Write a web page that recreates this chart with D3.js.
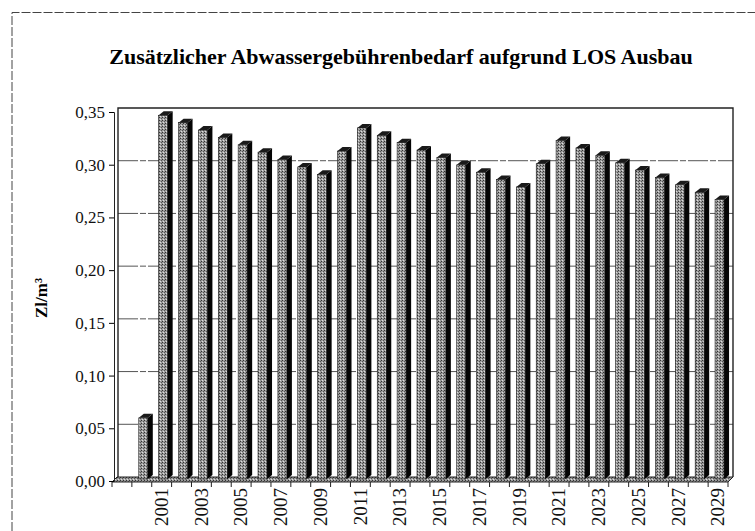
<!DOCTYPE html>
<html>
<head>
<meta charset="utf-8">
<script src="https://cdn.jsdelivr.net/npm/d3@7"></script>
<style>
  body { margin: 0; background: #fff; }
  text { font-family: "Liberation Serif", "DejaVu Serif", serif; }
</style>
</head>
<body>
<svg width="755" height="531"></svg>
<script>
var years = [1999, 2000, 2001, 2002, 2003, 2004, 2005, 2006, 2007, 2008, 2009,
             2010, 2011, 2012, 2013, 2014, 2015, 2016, 2017, 2018, 2019,
             2020, 2021, 2022, 2023, 2024, 2025, 2026, 2027, 2028, 2029];
var values = [0, 0.058, 0.345, 0.338, 0.331, 0.324, 0.317, 0.310, 0.303, 0.296, 0.289,
              0.311, 0.333, 0.326, 0.319, 0.312, 0.305, 0.298, 0.291, 0.284, 0.277,
              0.299, 0.321, 0.314, 0.307, 0.300, 0.293, 0.286, 0.279, 0.272, 0.265];
var yTicks = [0, 0.05, 0.10, 0.15, 0.20, 0.25, 0.30, 0.35];
var title = "Zusätzlicher Abwassergebührenbedarf aufgrund LOS Ausbau";
var yTitle = "Zl/m³";

var svg = d3.select("svg");
var dx = 5, dy = 4; // 3d depth offset

var x = d3.scaleBand().domain(years).range([112, 728]).padding(0);
var yBack = d3.scaleLinear().domain([0, 0.35]).range([477, 108]);
var yBar = d3.scaleLinear().domain([0, 0.35]).range([479, 110]);
var fmt = function(v){ return d3.format(".2f")(v).replace(".", ","); };

// stipple pattern for the bar faces
var defs = svg.append("defs");
var pat = defs.append("pattern").attr("id", "stip").attr("width", 3).attr("height", 3)
    .attr("patternUnits", "userSpaceOnUse");
pat.append("rect").attr("width", 3).attr("height", 3).attr("fill", "#9c9c9c");
pat.append("rect").attr("x", 0).attr("y", 0).attr("width", 1).attr("height", 1).attr("fill", "#333");
pat.append("rect").attr("x", 2).attr("y", 1).attr("width", 1).attr("height", 1).attr("fill", "#555");
pat.append("rect").attr("x", 1).attr("y", 2).attr("width", 1).attr("height", 1).attr("fill", "#ddd");

// outer frame
svg.append("path").attr("d", "M12,531 L12,12.5 L755,12.5")
    .attr("fill", "none").attr("stroke", "#444").attr("stroke-width", 1)
    .attr("stroke-dasharray", "9,2");

// title
svg.append("text").attr("x", 401).attr("y", 64).attr("text-anchor", "middle")
    .attr("font-size", 22).attr("font-weight", "bold").text(title);

// back wall gridlines
svg.selectAll("line.grid").data(yTicks.slice(1, -1)).enter().append("line")
    .attr("x1", 118).attr("x2", 733)
    .attr("y1", function(d){ return yBack(d); }).attr("y2", function(d){ return yBack(d); })
    .attr("stroke", "#555").attr("stroke-width", 1).attr("stroke-dasharray", "20,2,6,2");

// plot walls
svg.append("path").attr("d", "M118,477 L118,108 L733,108 L733,477")
    .attr("fill", "none").attr("stroke", "#222").attr("stroke-width", 1.4);

// floor
svg.append("path").attr("d", "M112,482 L117,477 L733,477 L728,482 Z")
    .attr("fill", "url(#stip)").attr("stroke", "#222").attr("stroke-width", 1);

// bars
var bar = svg.selectAll("g.bar").data(years).enter().append("g").attr("class", "bar");
bar.each(function(d, i){
    var g = d3.select(this);
    var cx = x(d) + x.bandwidth() / 2;
    var v = values[i];
    var x0 = cx - 3, x1 = cx + 6, yt = yBar(v), yb = yBar(0);
    if (v <= 0) return;
    g.append("rect").attr("x", x0).attr("y", yt).attr("width", x1 - x0).attr("height", yb - yt)
        .attr("fill", "url(#stip)").attr("stroke", "#111").attr("stroke-width", 0.6);
    g.append("path").attr("d", "M" + x1 + "," + yt + " L" + (x1 + dx) + "," + (yt - dy) +
        " L" + (x1 + dx) + "," + (yb - dy) + " L" + x1 + "," + yb + " Z").attr("fill", "#050505");
    g.append("path").attr("d", "M" + x0 + "," + yt + " L" + (x0 + dx) + "," + (yt - dy) +
        " L" + (x1 + dx) + "," + (yt - dy) + " L" + x1 + "," + yt + " Z").attr("fill", "#1a1a1a");
});

// y axis
var yAxis = d3.axisLeft(yBar).tickValues(yTicks).tickFormat(fmt).tickSize(5).tickPadding(4);
var ya = svg.append("g").attr("transform", "translate(114,2)").call(yAxis);
ya.select(".domain").attr("stroke", "#222");
ya.selectAll("text").attr("font-size", 17).attr("fill", "#111")
    .style("font-family", "Liberation Serif, serif");

// x axis, odd years only
var xAxis = d3.axisBottom(x).tickValues(years.filter(function(d){ return d % 2 === 1 && d > 1999; }))
    .tickSize(0).tickPadding(0);
var xa = svg.append("g").attr("transform", "translate(0,482)").call(xAxis);
xa.select(".domain").remove();
xa.selectAll("text").attr("font-size", 19).attr("fill", "#111")
    .style("font-family", "Liberation Serif, serif")
    .attr("text-anchor", "end").attr("transform", "rotate(-90)")
    .attr("x", -6).attr("y", 0).attr("dy", "0.33em");

// tick marks at category boundaries
var bounds = years.map(function(d){ return x(d); }).concat([x.range()[1]]);
svg.selectAll("line.xtick").data(bounds).enter().append("line")
    .attr("x1", function(d){ return d; }).attr("x2", function(d){ return d; })
    .attr("y1", 482).attr("y2", 487).attr("stroke", "#222");

// y title
svg.append("text").attr("transform", "translate(47,298) rotate(-90)")
    .attr("text-anchor", "middle").attr("font-size", 17).attr("font-weight", "bold")
    .text(yTitle);
</script>
</body>
</html>
